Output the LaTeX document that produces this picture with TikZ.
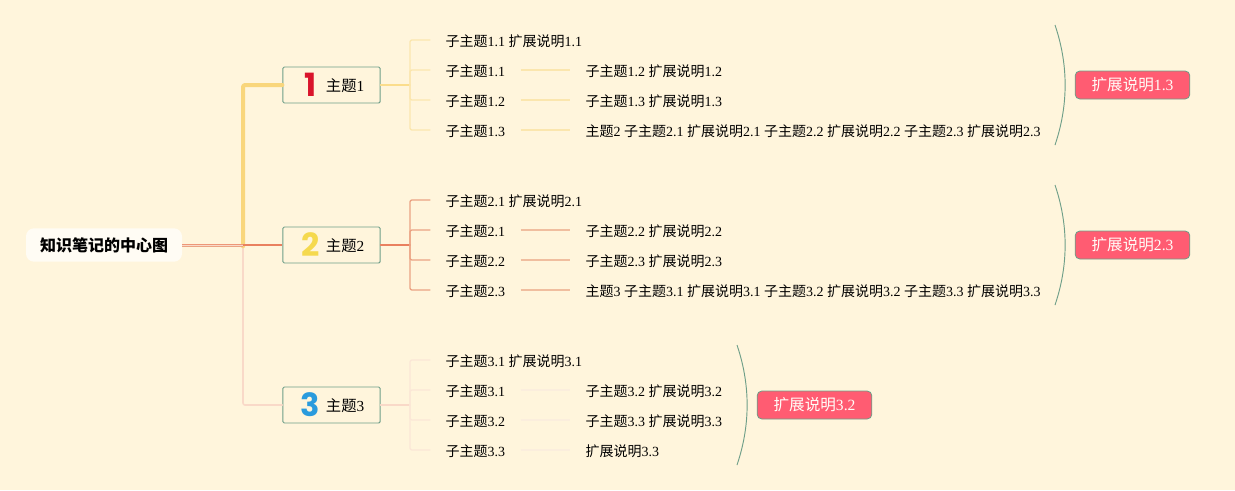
\documentclass[tikz,border=0pt]{standalone}
\usepackage{fontspec}
\setmainfont{Liberation Serif}
\newfontfamily\cjkf{Noto Sans CJK SC}
\newfontfamily\iconf{Poppins}
\newcommand{\Zs}{{\cjkf 子主题}}
\newcommand{\Kz}{{\cjkf 扩展说明}}
\newcommand{\Zt}{{\cjkf 主题}}
\newcommand{\Sp}{\hspace{2.62pt}}
\definecolor{bgc}{HTML}{FFF5DC}
\definecolor{boxline}{HTML}{6E9E88}
\definecolor{redbox}{HTML}{FF5C72}
\definecolor{yA}{HTML}{F9D67C}
\definecolor{yB}{HTML}{FBDD8C}
\definecolor{yC}{HTML}{FBE6AE}
\definecolor{rA}{HTML}{E9805F}
\definecolor{rB}{HTML}{EBA383}
\definecolor{rC}{HTML}{F0BE9F}
\definecolor{pA}{HTML}{F9D9C8}
\definecolor{pB}{HTML}{FBE7D6}
\definecolor{pC}{HTML}{FBEEDD}
\definecolor{icR}{HTML}{D9142B}
\definecolor{icY}{HTML}{F5D94E}
\definecolor{icB}{HTML}{2A9BDD}
\tikzset{
 x=0.75pt,y=-0.75pt,
 rootbox/.style={fill=white!70!bgc,rounded corners=6pt,minimum width=117pt,minimum height=25pt,inner sep=0pt,text height=10.5pt,text depth=0.8pt,font=\fontsize{12pt}{14pt}\selectfont\cjkf\bfseries},
 topicbox/.style={draw=boxline,line width=0.7pt,fill=bgc,rounded corners=1pt,minimum width=73pt,minimum height=27pt,inner sep=0pt,text height=10pt,text depth=0.6pt,font=\fontsize{11.5pt}{13pt}\selectfont},
 leaf/.style={anchor=west,inner ysep=0pt,inner xsep=11.6pt,text width=44.3pt,align=left,text height=9.4pt,text depth=0.4pt,font=\fontsize{10.5pt}{12pt}\selectfont},
 leafwide/.style={leaf,text width=130pt},
 sumbox/.style={draw=boxline,line width=0.6pt,fill=redbox,text=white!80!bgc,rounded corners=3.5pt,minimum width=86pt,minimum height=21pt,inner sep=0pt,font=\fontsize{11.7pt}{13pt}\selectfont},
 brace/.style={draw=boxline,line width=0.7pt},
 icon/.style={inner sep=0pt,font=\fontsize{24pt}{24pt}\selectfont\iconf\bfseries},
 conn/.style={line cap=round,line join=round,rounded corners=1.5pt},
}
\begin{document}
\begin{tikzpicture}
\useasboundingbox (0,0) rectangle (1235,490);
\fill[bgc] (0,0) rectangle (1235,490);

\node[rootbox] (root) at (104,245) {知识笔记的中心图};

\coordinate (j) at (243,245);

\node[topicbox] (a) at (331.5,85) {\hspace*{20.4pt}\Zt1};
\node[topicbox] (b) at (331.5,245) {\hspace*{20.4pt}\Zt2};
\node[topicbox] (c) at (331.5,405) {\hspace*{20.4pt}\Zt3};
\node[icon,text=icR] (ia) at (310.5,85) {1};
\node[icon,text=icY] (ib) at (310.5,245) {2};
\node[icon,text=icB] (ic) at (310.5,405) {3};

% trunk
\draw[conn,pA,line width=1.2pt] (j) |- (c.west);
\draw[conn,yA,line width=3pt] ([yshift=-1pt]j) |- (a.west);
\draw[rA,line width=1.9pt] (j) -- (b.west);
\draw[rB,line width=0.8pt] ([yshift=-1.2pt]root.east) -- ([yshift=-1.2pt]j);
\draw[pA,line width=0.8pt] (root.east) -- (j);
\draw[rA!80!bgc,line width=0.8pt] ([yshift=0.6pt]root.east) -- ([yshift=0.6pt]j);

% hubs
\coordinate (ha) at (410,85);
\coordinate (hb) at (410,245);
\coordinate (hc) at (410,405);

% group 1
\node[leafwide] (a0) at (430,40) {\Zs1.1\Sp\Kz1.1};
\node[leaf] (a1) at (430,70) {\Zs1.1};
\node[leaf] (a2) at (430,100) {\Zs1.2};
\node[leaf] (a3) at (430,130) {\Zs1.3};
\node[leaf,text width=150pt] (a1x) at (570,70) {\Zs1.2\Sp\Kz1.2};
\node[leaf,text width=150pt] (a2x) at (570,100) {\Zs1.3\Sp\Kz1.3};
\node[leaf,text width=350pt] (a3x) at (570,130) {\Zt2\Sp\Zs2.1\Sp\Kz2.1\Sp\Zs2.2\Sp\Kz2.2\Sp\Zs2.3\Sp\Kz2.3};
\draw[conn,yB,line width=1.2pt] (a.east) -- (ha);
\foreach \n in {a0,a1,a2,a3} \draw[conn,yC,line width=1pt] (ha) |- (\n.west);
\foreach \p/\q in {a1/a1x,a2/a2x,a3/a3x} \draw[yC,line width=1pt] (\p.east) -- (\q.west);

% group 2
\node[leafwide] (b0) at (430,200) {\Zs2.1\Sp\Kz2.1};
\node[leaf] (b1) at (430,230) {\Zs2.1};
\node[leaf] (b2) at (430,260) {\Zs2.2};
\node[leaf] (b3) at (430,290) {\Zs2.3};
\node[leaf,text width=150pt] (b1x) at (570,230) {\Zs2.2\Sp\Kz2.2};
\node[leaf,text width=150pt] (b2x) at (570,260) {\Zs2.3\Sp\Kz2.3};
\node[leaf,text width=350pt] (b3x) at (570,290) {\Zt3\Sp\Zs3.1\Sp\Kz3.1\Sp\Zs3.2\Sp\Kz3.2\Sp\Zs3.3\Sp\Kz3.3};
\draw[conn,rA,line width=1.2pt] (b.east) -- (hb);
\foreach \n in {b0,b1,b2,b3} \draw[conn,rB,line width=1pt] (hb) |- (\n.west);
\foreach \p/\q in {b1/b1x,b2/b2x,b3/b3x} \draw[rC,line width=1pt] (\p.east) -- (\q.west);

% group 3
\node[leafwide] (c0) at (430,360) {\Zs3.1\Sp\Kz3.1};
\node[leaf] (c1) at (430,390) {\Zs3.1};
\node[leaf] (c2) at (430,420) {\Zs3.2};
\node[leaf] (c3) at (430,450) {\Zs3.3};
\node[leaf,text width=150pt] (c1x) at (570,390) {\Zs3.2\Sp\Kz3.2};
\node[leaf,text width=150pt] (c2x) at (570,420) {\Zs3.3\Sp\Kz3.3};
\node[leaf,text width=150pt] (c3x) at (570,450) {\Kz3.3};
\draw[conn,pA,line width=1.2pt] (c.east) -- (hc);
\foreach \n in {c0,c1,c2,c3} \draw[conn,pB,line width=1pt] (hc) |- (\n.west);
\foreach \p/\q in {c1/c1x,c2/c2x,c3/c3x} \draw[pC,line width=1pt] (\p.east) -- (\q.west);

% summaries
\node[sumbox] (s1) at (1132.5,85) {\Kz1.3};
\node[sumbox] (s2) at (1132.5,245) {\Kz2.3};
\node[sumbox] (s3) at (814.5,405) {\Kz3.2};

\coordinate (s1a) at (1055,25); \coordinate (s1b) at (1055,145);
\coordinate (s2a) at (1055,185); \coordinate (s2b) at (1055,305);
\coordinate (s3a) at (737,345); \coordinate (s3b) at (737,465);
\draw[brace] (s1a) .. controls (1068.5,65) and (1068.5,105) .. (s1b);
\draw[brace] (s2a) .. controls (1068.5,225) and (1068.5,265) .. (s2b);
\draw[brace] (s3a) .. controls (750.5,385) and (750.5,425) .. (s3b);
\end{tikzpicture}
\end{document}
